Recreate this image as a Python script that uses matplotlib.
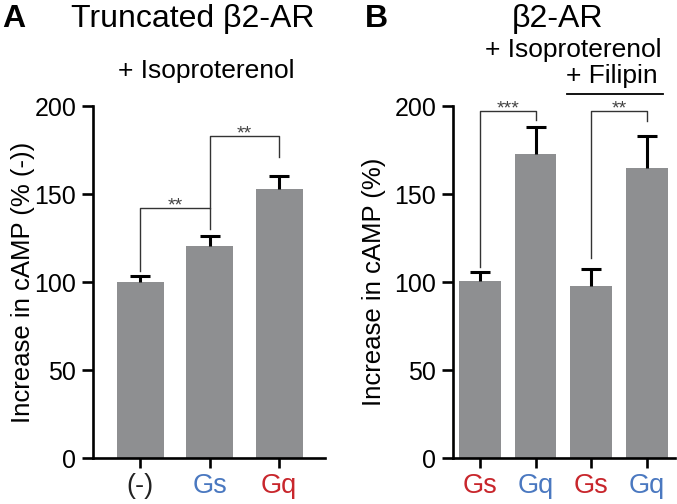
import matplotlib
matplotlib.use("Agg")
import matplotlib.pyplot as plt

plt.rcParams['font.family'] = ['Liberation Sans', 'DejaVu Sans']

# Panel A data
a_labels = ["(-)", "Gs", "Gq"]
a_colors = ["#222222", "#4a78c0", "#c8262c"]
a_values = [100, 120.5, 153]
a_errors = [3.5, 5.5, 7]

# Panel B data
b_labels = ["Gs", "Gq", "Gs", "Gq"]
b_colors = ["#c8262c", "#4a78c0", "#c8262c", "#4a78c0"]
b_values = [100.5, 173, 97.5, 165]
b_errors = [5, 15, 10, 18]

bar_color = "#8e8f91"
W, H = 677, 504
fig = plt.figure(figsize=(W / 100, H / 100), dpi=100)

def style_axes(ax, labels, colors, ylabel, label_x):
    ax.set_ylim(0, 200)
    ax.set_yticks([0, 50, 100, 150, 200])
    for s in ['top', 'right']:
        ax.spines[s].set_visible(False)
    for s in ['left', 'bottom']:
        ax.spines[s].set_linewidth(1.9)
    ax.tick_params(axis='y', width=1.9, length=8, labelsize=18, pad=4, color='black')
    ax.tick_params(axis='x', width=1.9, length=7, labelsize=19.5, pad=4, color='black')
    ax.set_xticks(range(len(labels)))
    ax.set_xticklabels(labels)
    for t, c in zip(ax.get_xticklabels(), colors):
        t.set_color(c)
    ax.set_ylabel(ylabel, fontsize=18.5)
    ax.yaxis.set_label_coords(label_x, 0.5)
    ax.patch.set_alpha(0)

def bars(ax, values, errors, width, cap):
    x = list(range(len(values)))
    ax.bar(x, values, width=width, color=bar_color, zorder=2)
    for xi, v, e in zip(x, values, errors):
        ax.plot([xi, xi], [v, v + e], color='black', lw=2.2, zorder=3,
                clip_on=False, solid_capstyle='butt')
        ax.plot([xi - cap, xi + cap], [v + e, v + e], color='black', lw=2.2,
                zorder=3, clip_on=False, solid_capstyle='butt')

def bracket(ax, x1, x2, ytop, yl, yr, stars):
    ax.plot([x1, x1, x2, x2], [yl, ytop, ytop, yr], color='#333333', lw=1.0,
            clip_on=False, zorder=4)
    ax.text((x1 + x2) / 2, ytop - 1.2, stars, ha='center', va='baseline',
            fontsize=14, color='#444444', clip_on=False)

# Panel A
axA = fig.add_axes([93 / W, 1 - 458 / H, (325 - 93) / W, (458 - 106) / H])
bars(axA, a_values, a_errors, 0.68, 0.145)
axA.set_xlim(-0.68, 2.66)
style_axes(axA, a_labels, a_colors, "Increase in cAMP (% (-))", -0.25)
bracket(axA, 0, 1, 142, 106, 130, "**")
bracket(axA, 1, 2, 183, 142, 171, "**")

# Panel B
axB = fig.add_axes([453 / W, 1 - 458 / H, (675 - 453) / W, (458 - 106) / H])
bars(axB, b_values, b_errors, 0.75, 0.18)
axB.set_xlim(-0.48, 3.5)
style_axes(axB, b_labels, b_colors, "Increase in cAMP (%)", -0.30)
bracket(axB, 0, 1, 197, 108.5, 192, "***")
bracket(axB, 2, 3, 197, 113.5, 191.5, "**")
axB.plot([1.56, 3.29], [206.8, 206.8], color='black', lw=1.3, clip_on=False)

# Titles and annotations
fig.text(2 / W, 1 - 27 / H, "A", fontsize=23, fontweight='bold', ha='left', va='baseline')
fig.text(193 / W, 1 - 27 / H, "Truncated β2-AR", fontsize=23, ha='center', va='baseline')
fig.text(206 / W, 1 - 78 / H, "+ Isoproterenol", fontsize=19, ha='center', va='baseline')

fig.text(365 / W, 1 - 27 / H, "B", fontsize=23, fontweight='bold', ha='left', va='baseline')
fig.text(557 / W, 1 - 27 / H, "β2-AR", fontsize=23, ha='center', va='baseline')
fig.text(573 / W, 1 - 57 / H, "+ Isoproterenol", fontsize=19, ha='center', va='baseline')
fig.text(612 / W, 1 - 83 / H, "+ Filipin", fontsize=19, ha='center', va='baseline')

fig.savefig("out.png", dpi=100)
